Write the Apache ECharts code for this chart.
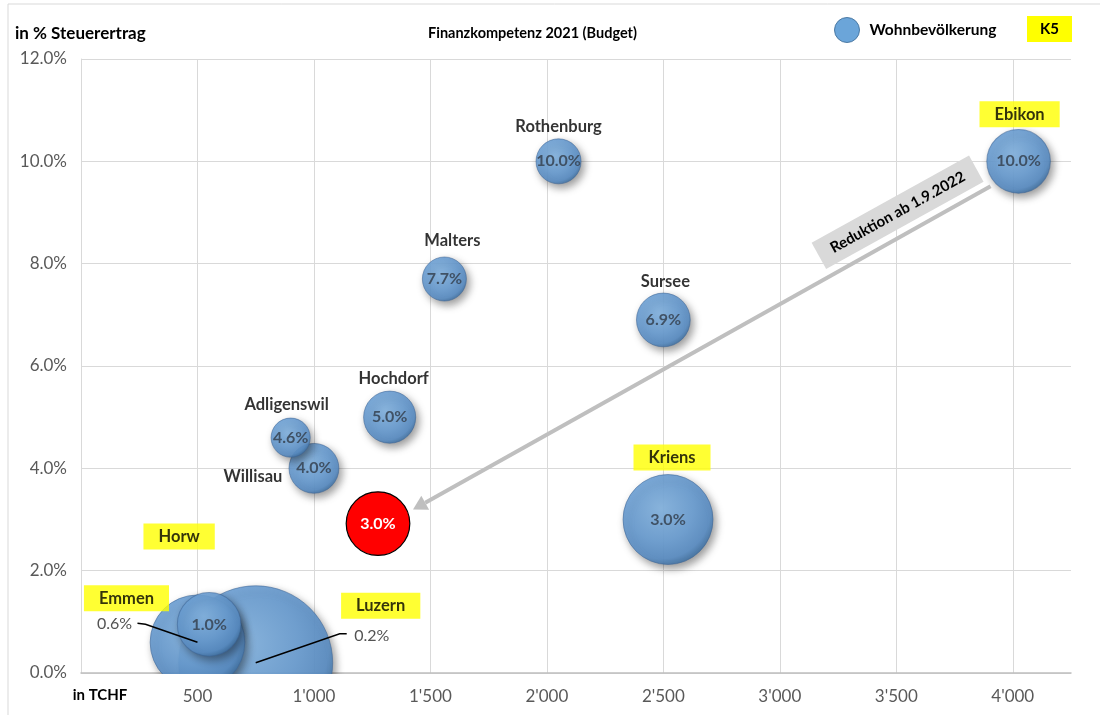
<!DOCTYPE html>
<html>
<head>
<meta charset="utf-8">
<title>Finanzkompetenz 2021 (Budget)</title>
<script src="https://cdn.jsdelivr.net/npm/echarts@6/dist/echarts.min.js"></script>
<style>
  html, body { margin: 0; padding: 0; background: #fff; }
  #chart { width: 1100px; height: 715px; }
</style>
</head>
<body>
<div id="chart"></div>
<script>
// Gemeinden, grosse Blasen zuerst (Zeichenreihenfolge)
const gemeinden = ['Luzern', 'Emmen', 'Kriens', 'Horw', 'Ebikon', 'Sursee', 'Hochdorf', 'Willisau', 'Rothenburg', 'Malters', 'Adligenswil'];
const tchf = [750, 500, 2520, 550, 4025, 2500, 1325, 1000, 2050, 1560, 900];
const prozent = [0.2, 0.6, 3.0, 0.95, 10.0, 6.9, 5.0, 4.0, 10.0, 7.7, 4.6];
const einwohner = [82000, 31000, 28000, 14000, 14000, 10000, 9400, 8600, 7000, 6700, 5300];
const wertLabels = ['0.2%', '0.6%', '3.0%', '1.0%', '10.0%', '6.9%', '5.0%', '4.0%', '10.0%', '7.7%', '4.6%'];

// Ebikon nach der Reduktion ab 1.9.2022
const reduktionX = [1275];
const reduktionY = [2.92];
const reduktionEinwohner = [14000];
const reduktionLabels = ['3.0%'];

const xTicks = [500, 1000, 1500, 2000, 2500, 3000, 3500, 4000];

// Beschriftungen (Pixelversatz zur Blasenmitte)
const nameOffset = {
	Luzern: [125, -57], Emmen: [-71, -44], Kriens: [4, -62], Horw: [-30, -88], Ebikon: [1, -47],
	Sursee: [2, -38], Hochdorf: [4, -38], Willisau: [-61, 8], Rothenburg: [0, -35], Malters: [8, -38], Adligenswil: [-4, -33]
};
const gelb = ['Luzern', 'Emmen', 'Kriens', 'Horw', 'Ebikon'];
const wertOffset = { Emmen: [-83, -18], Luzern: [116, -27] };

const FONT = 'Lato';
const bubbleK = 8.5; // px Radius je Wurzel(1000 Einwohner)
const bubbleSize = (v) => 2 * bubbleK * Math.sqrt(v[2] / 1000);

const fmtTchf = (v) => {
	if (v === 0) return '{b|in TCHF}';
	if (xTicks.indexOf(v) < 0) return '';
	if (v < 1000) return String(v);
	return Math.floor(v / 1000) + "'" + String(v % 1000).padStart(3, '0');
};

const blau = new echarts.graphic.RadialGradient(0.42, 0.38, 0.65, [
	{ offset: 0, color: '#86b6e3' },
	{ offset: 0.55, color: '#6b9fd4' },
	{ offset: 0.85, color: '#5a8ec5' },
	{ offset: 1, color: '#3e6e9e' }
]);

const bubbleData = gemeinden.map((g, i) => {
	const item = { name: g, value: [tchf[i], prozent[i], einwohner[i]] };
	if (wertOffset[g]) {
		item.label = { offset: wertOffset[g], fontWeight: 'normal', color: '#404040' };
	}
	return item;
});

const nameData = gemeinden.map((g, i) => {
	const item = { name: g, value: [tchf[i], prozent[i], einwohner[i]], label: { offset: nameOffset[g] } };
	if (gelb.indexOf(g) >= 0) {
		item.label.backgroundColor = '#ffff00';
		item.label.padding = [5, 15, 4, 15];
	}
	return item;
});

const xLabel = {
	formatter: fmtTchf, color: '#595959', fontSize: 17, margin: 15, fontFamily: FONT,
	showMaxLabel: false,
	rich: { b: { fontWeight: 'bold', color: '#000', fontSize: 15, fontFamily: FONT, padding: [0, 0, 0, 38] } }
};

const chart = echarts.init(document.getElementById('chart'));

chart.setOption({
	animation: false,
	textStyle: { fontFamily: FONT },
	title: [
		{ text: 'Finanzkompetenz 2021 (Budget)', left: 428, top: 26, padding: 0, textStyle: { fontFamily: FONT, fontSize: 14.5, fontWeight: 'bold', color: '#000' } },
		{ text: 'in % Steuerertrag', left: 15, top: 25, padding: 0, textStyle: { fontFamily: FONT, fontSize: 17, fontWeight: 'bold', color: '#000' } }
	],
	legend: {
		data: [{ name: 'Wohnbevölkerung', itemStyle: { color: '#5b9bd5', borderColor: '#41719c', borderWidth: 1, shadowBlur: 0, shadowColor: 'transparent' } }],
		left: 834, top: 17, padding: 0,
		icon: 'circle', itemWidth: 25, itemHeight: 25,
		selectedMode: false,
		textStyle: { fontFamily: FONT, fontSize: 15.5, fontWeight: 'bold', color: '#000', padding: [0, 0, 0, 5] }
	},
	grid: { left: 81, right: 29, top: 59, bottom: 42 },
	xAxis: [
		{
			type: 'value', min: 0, max: 4250, interval: 500,
			axisLine: { lineStyle: { color: '#bfbfbf', width: 1.5 } },
			axisTick: { show: false },
			splitLine: { lineStyle: { color: '#d9d9d9' }, showMinLine: false, showMaxLine: false },
			axisLabel: { show: false }
		},
		{
			// nur Beschriftung, über der Abdeckung unterhalb der Achse
			type: 'value', min: 0, max: 4250, interval: 500, position: 'bottom', z: 10,
			axisLine: { show: false }, axisTick: { show: false }, splitLine: { show: false },
			axisLabel: xLabel
		}
	],
	yAxis: {
		type: 'value', min: 0, max: 12, interval: 2,
		axisLine: { show: true, lineStyle: { color: '#d9d9d9' } },
		axisTick: { show: false },
		splitLine: { lineStyle: { color: '#d9d9d9' } },
		axisLabel: { formatter: (v) => v.toFixed(1) + '%', color: '#595959', fontSize: 17, margin: 14, fontFamily: FONT }
	},
	series: [
		{
			name: 'Wohnbevölkerung',
			type: 'scatter',
			data: bubbleData,
			symbolSize: bubbleSize,
			itemStyle: {
				color: blau, opacity: 0.9,
				borderColor: 'rgba(60,100,150,0.6)', borderWidth: 1,
				shadowBlur: 8, shadowColor: 'rgba(0,0,0,0.45)', shadowOffsetX: 3, shadowOffsetY: 4
			},
			label: {
				show: true, position: 'inside',
				formatter: (p) => wertLabels[p.dataIndex],
				fontFamily: FONT, fontSize: 16, fontWeight: 'bold', color: '#3a4859'
			},
			emphasis: { disabled: true },
			z: 3
		},
		{
			name: 'Reduktion',
			type: 'scatter',
			data: reduktionX.map((x, i) => [x, reduktionY[i], reduktionEinwohner[i]]),
			symbolSize: bubbleSize,
			itemStyle: { color: '#ff0000', opacity: 1, borderColor: '#000', borderWidth: 1.2 },
			label: {
				show: true, position: 'inside',
				formatter: (p) => reduktionLabels[p.dataIndex],
				fontFamily: FONT, fontSize: 16, fontWeight: 'bold', color: '#fff'
			},
			emphasis: { disabled: true },
			z: 3
		},
		{
			name: 'Namen',
			type: 'scatter',
			data: nameData,
			symbolSize: 0,
			silent: true,
			label: {
				show: true, position: 'inside',
				formatter: (p) => p.name,
				fontFamily: FONT, fontSize: 16.5, fontWeight: 'bold', color: '#000'
			},
			z: 4
		}
	]
});

// Pfeil, Hinweis und Führungslinien an die Blasen anhängen
const px = (x, y) => chart.convertToPixel({ gridIndex: 0 }, [x, y]);
const iEbikon = gemeinden.indexOf('Ebikon');
const pE = px(tchf[iEbikon], prozent[iEbikon]);
const pR = px(reduktionX[0], reduktionY[0]);
const p0 = px(0, 0);

const a0 = [pE[0] - 28, pE[1] + 25];
const a1 = [pR[0] + 35, pR[1] - 14];
const ang = Math.atan2(a1[1] - a0[1], a1[0] - a0[0]);
const dx = Math.cos(ang), dy = Math.sin(ang);
const headLen = 14, headW = 8;
const base = [a1[0] - headLen * dx, a1[1] - headLen * dy];

const leader = (name, pts) => {
	const i = gemeinden.indexOf(name);
	const c = px(tchf[i], prozent[i]);
	return {
		type: 'polyline', z: 20,
		shape: { points: pts.map((p) => [c[0] + p[0], c[1] + p[1]]) },
		style: { stroke: '#000', lineWidth: 1.5, fill: null }
	};
};

chart.setOption({
	graphic: [
		{ type: 'rect', silent: true, z: -10, shape: { x: 8, y: 4, width: 1200, height: 800 }, style: { fill: null, stroke: '#d9d9d9', lineWidth: 1 } },
		// Blasen an der x-Achse abschneiden
		{ type: 'rect', silent: true, z: 5, shape: { x: p0[0] + 1, y: p0[1] + 1, width: 1100, height: 60 }, style: { fill: '#fff' } },
		{ type: 'rect', shape: { x: 1027, y: 16, width: 45, height: 26 }, style: { fill: '#ffff00' } },
		{ type: 'text', x: 1049.5, y: 29, style: { text: 'K5', align: 'center', verticalAlign: 'middle', fontFamily: FONT, fontSize: 15, fontWeight: 'bold', fill: '#000' } },
		{ type: 'line', z: 10, shape: { x1: a0[0], y1: a0[1], x2: base[0], y2: base[1] }, style: { stroke: '#bfbfbf', lineWidth: 4 } },
		{
			type: 'polygon', z: 10,
			shape: { points: [a1, [base[0] - headW * dy, base[1] + headW * dx], [base[0] + headW * dy, base[1] - headW * dx]] },
			style: { fill: '#bfbfbf' }
		},
		{
			type: 'group', x: pE[0] - 121, y: pE[1] + 51, rotation: 29 * Math.PI / 180, z: 11,
			children: [
				{ type: 'rect', shape: { x: -90, y: -15, width: 180, height: 30 }, style: { fill: '#d9d9d9' } },
				{ type: 'text', style: { text: 'Reduktion ab 1.9.2022', x: 0, y: 0, align: 'center', verticalAlign: 'middle', fontFamily: FONT, fontSize: 15, fontWeight: 'bold', fill: '#000' } }
			]
		},
		leader('Emmen', [[-60, -19], [-52, -18], [0, 0]]),
		leader('Luzern', [[91, -29], [84, -29], [0, 0]])
	]
});
</script>
</body>
</html>
